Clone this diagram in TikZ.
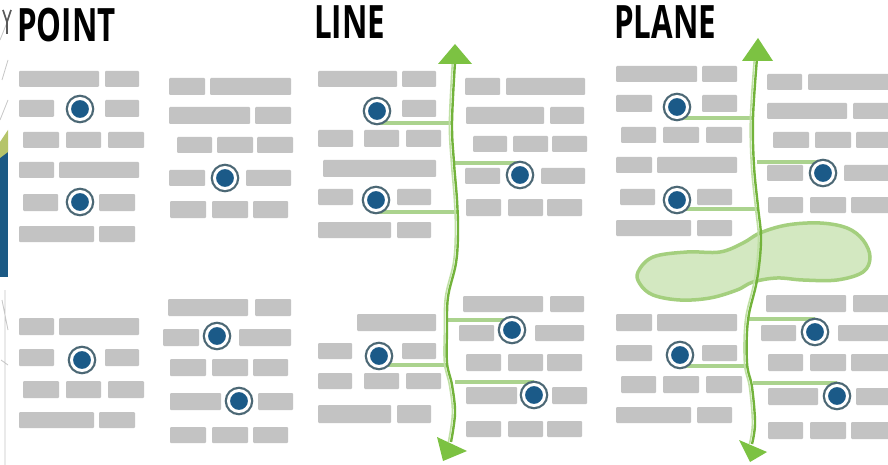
\documentclass[tikz,border=0pt]{standalone}
\usepackage{fontspec}
\setmainfont{Open Sans}
\definecolor{blockgray}{HTML}{C3C3C3}
\definecolor{dotblue}{HTML}{1B5A88}
\definecolor{ringgray}{HTML}{4C6875}
\definecolor{linegreen}{HTML}{73B33B}
\definecolor{palegreen}{HTML}{BFE0A4}
\definecolor{linkgreen}{HTML}{ABD38E}
\definecolor{headgreen}{HTML}{7CC242}
\definecolor{blobfill}{HTML}{D3E8C1}
\definecolor{blobedge}{HTML}{A4CF7E}
\definecolor{mapblue}{HTML}{1B5A85}
\definecolor{mapolive}{HTML}{B5C46A}
\tikzset{
  blk/.style={fill=blockgray, rounded corners=1pt},
  spot/.style={circle, inner sep=0pt, minimum size=21pt, fill=dotblue, draw=white, line width=3pt,
    preaction={draw=ringgray, line width=7.5pt}},
  link/.style={draw=linkgreen, line width=3.5pt},
  mainline/.style={draw=linegreen, line width=2.4pt},
  paleline/.style={draw=palegreen, line width=1.6pt},
  head/.style={fill=headgreen},
  title/.style={anchor=base west, inner sep=0pt, font=\fontsize{46}{46}\selectfont\bfseries}
}
\newcommand{\mkblk}[4]{\fill[blk] (#1,#2) rectangle (#3,#4);}
\begin{document}
\begin{tikzpicture}[x=1pt,y=-1pt]
\useasboundingbox (0,0) rectangle (888,465);
\clip (0,0) rectangle (888,465);
\fill[white] (0,0) rectangle (888,465);
% left edge fragment
\fill[mapblue] (0,150) rectangle (8,277);
\fill[mapolive] (0,142) -- (8,130) -- (8,152) -- (0,158) -- cycle;
\draw[gray!45, line width=0.8pt] (0,40) -- (8,20) (2,80) -- (8,60) (0,120) -- (8,100) (5,290) -- (5,465) (2,300) -- (8,330) (1,360) -- (8,365);
\draw[gray!70!black, line width=1.6pt] (3,10) -- (7,22) -- (11,10) (7,22) -- (7,34);
% titles
\node[title] (tpoint) at (17,42) {\scalebox{0.68}[1]{POINT}};
\node[title] (tline) at (314,39) {\scalebox{0.68}[1]{LINE}};
\node[title] (tplane) at (614,39) {\scalebox{0.68}[1]{PLANE}};
% ---------- POINT blocks
\mkblk{19}{71}{99}{87}\mkblk{105}{71}{139}{87}
\mkblk{19}{100}{54}{117}\mkblk{105}{100}{139}{117}
\mkblk{23}{132}{59}{148}\mkblk{66}{132}{101}{148}\mkblk{108}{132}{144}{148}
\mkblk{19}{162}{54}{178}\mkblk{59}{162}{139}{178}
\mkblk{23}{194}{58}{211}\mkblk{99}{194}{135}{211}
\mkblk{19}{226}{94}{242}\mkblk{99}{226}{135}{242}
\mkblk{169}{78}{205}{95}\mkblk{210}{78}{291}{95}
\mkblk{169}{107}{250}{124}\mkblk{255}{107}{291}{124}
\mkblk{177}{137}{212}{153}\mkblk{217}{137}{253}{153}\mkblk{257}{137}{293}{153}
\mkblk{169}{170}{205}{186}\mkblk{246}{170}{291}{186}
\mkblk{170}{201}{206}{218}\mkblk{212}{201}{248}{218}\mkblk{253}{201}{288}{218}
\mkblk{19}{318}{54}{335}\mkblk{59}{318}{139}{335}
\mkblk{19}{349}{54}{366}\mkblk{105}{349}{139}{366}
\mkblk{23}{381}{59}{398}\mkblk{66}{381}{101}{398}\mkblk{108}{381}{144}{398}
\mkblk{19}{412}{94}{428}\mkblk{99}{412}{135}{428}
\mkblk{168}{299}{248}{316}\mkblk{255}{299}{291}{316}
\mkblk{163}{329}{199}{346}\mkblk{239}{329}{291}{346}
\mkblk{170}{359}{206}{376}\mkblk{212}{359}{248}{376}\mkblk{253}{359}{288}{376}
\mkblk{170}{393}{221}{410}\mkblk{258}{393}{293}{410}
\mkblk{170}{427}{206}{443}\mkblk{212}{427}{248}{443}\mkblk{253}{427}{288}{443}
% ---------- LINE blocks
\mkblk{318}{71}{397}{87}\mkblk{402}{71}{436}{87}
\mkblk{402}{100}{436}{117}
\mkblk{318}{130}{353}{147}\mkblk{364}{130}{399}{147}\mkblk{406}{130}{441}{147}
\mkblk{323}{160}{436}{177}
\mkblk{318}{189}{353}{205}\mkblk{397}{189}{431}{205}
\mkblk{318}{222}{391}{238}\mkblk{397}{222}{431}{238}
\mkblk{465}{78}{500}{95}\mkblk{506}{78}{585}{95}
\mkblk{466}{107}{544}{124}\mkblk{550}{107}{584}{124}
\mkblk{473}{136}{507}{152}\mkblk{513}{136}{548}{152}\mkblk{552}{136}{587}{152}
\mkblk{465}{168}{500}{184}\mkblk{541}{168}{585}{184}
\mkblk{466}{199}{501}{216}\mkblk{508}{199}{543}{216}\mkblk{547}{199}{582}{216}
\mkblk{357}{314}{436}{331}
\mkblk{318}{343}{352}{359}\mkblk{402}{343}{436}{359}
\mkblk{318}{373}{352}{389}\mkblk{364}{373}{399}{389}\mkblk{406}{373}{441}{389}
\mkblk{318}{405}{391}{423}\mkblk{397}{405}{431}{423}
\mkblk{463}{296}{543}{312}\mkblk{550}{296}{584}{312}
\mkblk{459}{325}{494}{341}\mkblk{535}{325}{584}{341}
\mkblk{466}{354}{501}{371}\mkblk{508}{354}{543}{371}\mkblk{547}{354}{582}{371}
\mkblk{466}{387}{517}{404}\mkblk{552}{387}{587}{404}
\mkblk{466}{421}{501}{437}\mkblk{508}{421}{543}{437}\mkblk{547}{421}{582}{437}
% ---------- PLANE blocks
\mkblk{616}{66}{697}{82}\mkblk{702}{66}{737}{82}
\mkblk{616}{95}{652}{112}\mkblk{702}{95}{737}{112}
\mkblk{621}{127}{656}{143}\mkblk{663}{127}{699}{143}\mkblk{706}{127}{742}{143}
\mkblk{616}{157}{652}{173}\mkblk{657}{157}{737}{173}
\mkblk{620}{189}{655}{205}\mkblk{697}{189}{732}{205}
\mkblk{616}{220}{691}{236}\mkblk{697}{220}{732}{236}
\mkblk{767}{74}{802}{90}\mkblk{808}{74}{892}{90}
\mkblk{767}{103}{847}{119}\mkblk{853}{103}{892}{119}
\mkblk{773}{132}{809}{148}\mkblk{815}{132}{851}{148}\mkblk{856}{132}{892}{148}
\mkblk{767}{165}{803}{181}\mkblk{844}{165}{892}{181}
\mkblk{768}{197}{803}{213}\mkblk{810}{197}{846}{213}\mkblk{851}{197}{892}{213}
\mkblk{616}{314}{652}{331}\mkblk{657}{314}{737}{331}
\mkblk{616}{345}{652}{361}\mkblk{702}{345}{737}{361}
\mkblk{621}{376}{656}{393}\mkblk{663}{376}{699}{393}\mkblk{706}{376}{742}{393}
\mkblk{616}{407}{691}{423}\mkblk{697}{407}{732}{423}
\mkblk{766}{295}{846}{312}\mkblk{853}{295}{892}{312}
\mkblk{761}{325}{796}{341}\mkblk{838}{325}{892}{341}
\mkblk{768}{354}{803}{371}\mkblk{810}{354}{846}{371}\mkblk{851}{354}{892}{371}
\mkblk{768}{388}{818}{405}\mkblk{856}{388}{892}{405}
\mkblk{768}{422}{803}{439}\mkblk{810}{422}{846}{439}\mkblk{851}{422}{892}{439}
% ---------- plane blob
\filldraw[fill=blobfill, draw=blobedge, line width=3.5pt]
  plot[smooth cycle, tension=0.6] coordinates {(638,272) (653,257) (687,252) (720,252) (743,243) (760,233) (787,225) (820,223) (847,228) (863,240) (870,257) (863,272) (837,280) (803,280) (777,278) (753,282) (737,290) (710,298) (680,300) (653,295) (640,284)};
% ---------- connectors (LINE)
\coordinate (la) at (452,123); \coordinate (lb) at (455,163); \coordinate (lc) at (457,212);
\coordinate (ld) at (448,320); \coordinate (le) at (447,365); \coordinate (lf) at (455,382);
\draw[link] (377,123) -- (la);
\draw[link] (lb) -- (520,163);
\draw[link] (376,212) -- (lc);
\draw[link] (ld) -- (512,320);
\draw[link] (379,365) -- (le);
\draw[link] (lf) -- (534,382);
% ---------- connectors (PLANE)
\coordinate (pa) at (753,118); \coordinate (pb) at (757,162); \coordinate (pc) at (758,209);
\coordinate (pd) at (748,319); \coordinate (pe) at (747,366); \coordinate (pf) at (753,383);
\draw[link] (677,118) -- (pa);
\draw[link] (pb) -- (823,162);
\draw[link] (677,209) -- (pc);
\draw[link] (pd) -- (815,319);
\draw[link] (680,366) -- (pe);
\draw[link] (pf) -- (837,383);
% ---------- vertical green lines
\draw[paleline, xshift=-2.6pt] plot[smooth, tension=0.6] coordinates {(455,62) (452,123) (454,163) (457,200) (458,232) (456,263) (448,297) (447,330) (447,363) (452,385) (455,413) (451,442)};
\draw[mainline] plot[smooth, tension=0.6] coordinates {(455,62) (452,123) (454,163) (457,200) (458,232) (456,263) (448,297) (447,330) (447,363) (452,385) (455,413) (451,442)};
\fill[head] (455,44) -- (472,64) -- (438,64) -- cycle;
\fill[head] (437,437) -- (467,451) -- (443,461) -- cycle;
\draw[paleline, xshift=-2.6pt] plot[smooth, tension=0.6] coordinates {(757,58) (753,118) (754,166) (758,207) (761,240) (757,280) (748,320) (747,363) (752,387) (755,423) (752,444)};
\draw[mainline] plot[smooth, tension=0.6] coordinates {(757,58) (753,118) (754,166) (758,207) (761,240) (757,280) (748,320) (747,363) (752,387) (755,423) (752,444)};
\fill[head] (758,38) -- (773,61) -- (742,61) -- cycle;
\fill[head] (739,440) -- (767,452) -- (750,462) -- cycle;
% ---------- dots
\node[spot] (p1) at (80,109) {};
\node[spot] (p2) at (80,202) {};
\node[spot] (p3) at (225,178) {};
\node[spot] (p4) at (82,360) {};
\node[spot] (p5) at (217,336) {};
\node[spot] (p6) at (239,401) {};
\node[spot] (l1) at (377,111) {};
\node[spot] (l2) at (520,175) {};
\node[spot] (l3) at (376,200) {};
\node[spot] (l4) at (512,330) {};
\node[spot] (l5) at (379,356) {};
\node[spot] (l6) at (534,395) {};
\node[spot] (q1) at (677,107) {};
\node[spot] (q2) at (823,173) {};
\node[spot] (q3) at (677,200) {};
\node[spot] (q4) at (815,332) {};
\node[spot] (q5) at (680,355) {};
\node[spot] (q6) at (837,396) {};
\end{tikzpicture}
\end{document}
